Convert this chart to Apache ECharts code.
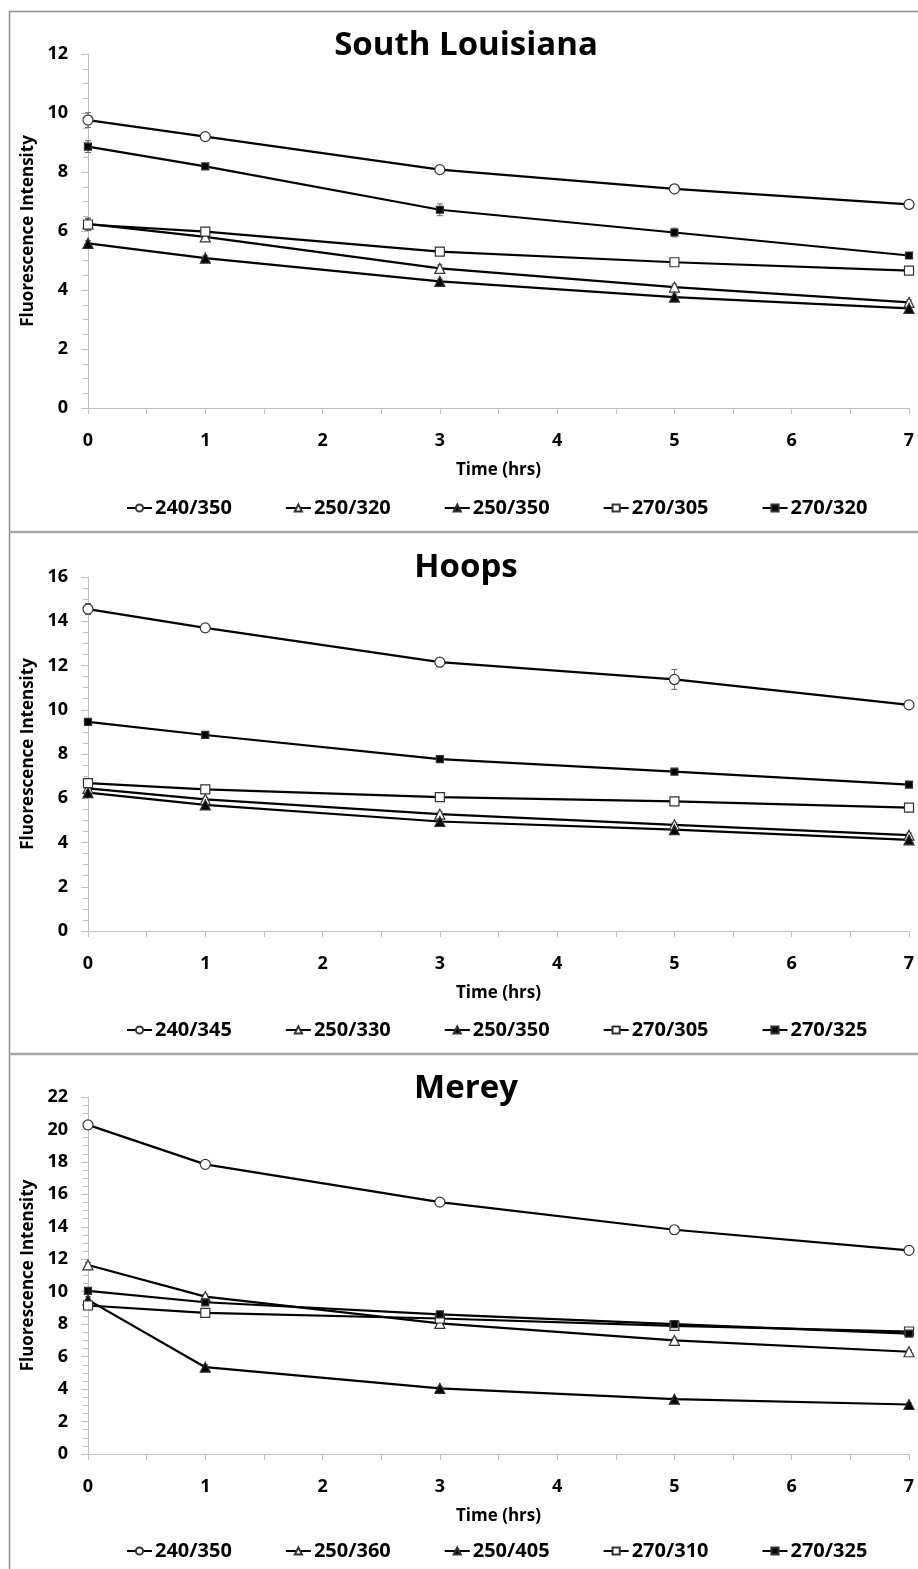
<!DOCTYPE html>
<html>
<head>
<meta charset="utf-8">
<script src="https://cdn.jsdelivr.net/npm/echarts@6/dist/echarts.min.js"></script>
<style>
html,body{margin:0;padding:0;background:#fff;}
#chart{width:918px;height:1569px;}
</style>
</head>
<body>
<div id="chart"></div>
<script>
// ---------- DATA ----------
const times = [0, 1, 3, 5, 7];

// South Louisiana
const slNames = ['240/350', '250/320', '250/350', '270/305', '270/320'];
const sl_240_350 = [9.76, 9.20, 8.08, 7.43, 6.90];
const sl_250_320 = [6.24, 5.80, 4.73, 4.10, 3.58];
const sl_250_350 = [5.58, 5.08, 4.29, 3.76, 3.38];
const sl_270_305 = [6.22, 5.98, 5.30, 4.94, 4.66];
const sl_270_320 = [8.86, 8.19, 6.72, 5.95, 5.17];
const sl_240_350_err = [0.25, 0.08, 0.10, 0.08, 0.08];
const sl_250_320_err = [0.20, 0.15, 0.12, 0.10, 0.08];
const sl_250_350_err = [0.10, 0.08, 0.08, 0.10, 0.08];
const sl_270_305_err = [0.20, 0.10, 0.10, 0.10, 0.10];
const sl_270_320_err = [0.20, 0.08, 0.20, 0.15, 0.05];

// Hoops
const hNames = ['240/345', '250/330', '250/350', '270/305', '270/325'];
const h_240_345 = [14.55, 13.70, 12.15, 11.37, 10.22];
const h_250_330 = [6.45, 5.95, 5.28, 4.80, 4.33];
const h_250_350 = [6.25, 5.70, 4.95, 4.58, 4.12];
const h_270_305 = [6.68, 6.40, 6.05, 5.86, 5.58];
const h_270_325 = [9.45, 8.86, 7.77, 7.20, 6.62];
const h_240_345_err = [0.25, 0.10, 0.10, 0.45, 0.10];
const h_250_330_err = [0.10, 0.10, 0.10, 0.10, 0.10];
const h_250_350_err = [0.10, 0.10, 0.10, 0.10, 0.10];
const h_270_305_err = [0.10, 0.10, 0.10, 0.10, 0.10];
const h_270_325_err = [0.10, 0.10, 0.15, 0.10, 0.05];

// Merey
const mNames = ['240/350', '250/360', '250/405', '270/310', '270/325'];
const m_240_350 = [20.28, 17.85, 15.52, 13.82, 12.55];
const m_250_360 = [11.65, 9.70, 8.05, 7.00, 6.30];
const m_250_405 = [9.50, 5.35, 4.05, 3.38, 3.05];
const m_270_310 = [9.15, 8.70, 8.35, 7.90, 7.55];
const m_270_325 = [10.05, 9.35, 8.60, 8.00, 7.42];
const m_240_350_err = [0.20, 0.15, 0.15, 0.15, 0.15];
const m_250_360_err = [0.15, 0.15, 0.15, 0.15, 0.10];
const m_250_405_err = [0.20, 0.15, 0.10, 0.10, 0.10];
const m_270_310_err = [0.15, 0.10, 0.10, 0.10, 0.10];
const m_270_325_err = [0.15, 0.10, 0.10, 0.10, 0.10];

const panelTitles = ['South Louisiana', 'Hoops', 'Merey'];
const yMax = [12, 16, 22];
const xLabel = 'Time (hrs)';
const yLabel = 'Fluorescence Intensity';

// ---------- STYLE / LAYOUT ----------
const FONT = "'Open Sans', 'Noto Sans', sans-serif";
const markerStyles = [
  {symbol: 'circle', size: 10, fill: '#fff'},
  {symbol: 'triangle', size: 10, fill: '#fff'},
  {symbol: 'triangle', size: 10, fill: '#000'},
  {symbol: 'rect', size: 9, fill: '#fff'},
  {symbol: 'rect', size: 7, fill: '#000'}
];
const panels = [
  {names: slNames, values: [sl_240_350, sl_250_320, sl_250_350, sl_270_305, sl_270_320],
   errs: [sl_240_350_err, sl_250_320_err, sl_250_350_err, sl_270_305_err, sl_270_320_err]},
  {names: hNames, values: [h_240_345, h_250_330, h_250_350, h_270_305, h_270_325],
   errs: [h_240_345_err, h_250_330_err, h_250_350_err, h_270_305_err, h_270_325_err]},
  {names: mNames, values: [m_240_350, m_250_360, m_250_405, m_270_310, m_270_325],
   errs: [m_240_350_err, m_250_360_err, m_250_405_err, m_270_310_err, m_270_325_err]}
];
const gridTops = [54, 577, 1097];
const gridHeights = [354, 354, 357];
const titleY = [46, 568, 1089];
const legendY = [498, 1020, 1541];

const grids = [], xAxes = [], yAxes = [], series = [], legends = [], graphics = [];

panels.forEach((p, i) => {
  grids.push({left: 88, width: 821, top: gridTops[i], height: gridHeights[i]});
  xAxes.push({
    type: 'value', gridIndex: i, min: 0, max: 7, interval: 1,
    axisLine: {show: true, lineStyle: {color: '#c0c0c0', width: 1}},
    axisTick: {show: true, length: 6, lineStyle: {color: '#c0c0c0'}},
    minorTick: {show: true, splitNumber: 2, length: 6, lineStyle: {color: '#c0c0c0'}},
    splitLine: {show: false},
    axisLabel: {color: '#000', fontWeight: 'bold', fontSize: 18, fontFamily: FONT, margin: 24},
    name: xLabel, nameLocation: 'middle', nameGap: 54,
    nameTextStyle: {color: '#000', fontWeight: 'bold', fontSize: 17, fontFamily: FONT}
  });
  yAxes.push({
    type: 'value', gridIndex: i, min: 0, max: yMax[i], interval: 2,
    axisLine: {show: true, lineStyle: {color: '#c0c0c0', width: 1}},
    axisTick: {show: true, length: 7, lineStyle: {color: '#c0c0c0'}},
    minorTick: {show: true, splitNumber: 4, length: 5, lineStyle: {color: '#c0c0c0'}},
    splitLine: {show: false},
    axisLabel: {color: '#000', fontWeight: 'bold', fontSize: 18, fontFamily: FONT, margin: 20},
    name: yLabel, nameLocation: 'middle', nameGap: 51,
    nameTextStyle: {color: '#000', fontWeight: 'bold', fontSize: 17, fontFamily: FONT}
  });
  p.names.forEach((nm, k) => {
    const ms = markerStyles[k];
    series.push({
      type: 'custom', name: 'err_' + i + '_' + k, xAxisIndex: i, yAxisIndex: i, z: 3,
      data: times.map((t, j) => [t, p.values[k][j], p.errs[k][j]]),
      encode: {x: 0, y: 1},
      renderItem: function (params, api) {
        const x = api.value(0), y = api.value(1), e = api.value(2);
        const hi = api.coord([x, y + e]), lo = api.coord([x, y - e]);
        const w = 3;
        const st = {stroke: '#666', lineWidth: 1};
        return {type: 'group', children: [
          {type: 'line', shape: {x1: hi[0], y1: hi[1], x2: lo[0], y2: lo[1]}, style: st},
          {type: 'line', shape: {x1: hi[0] - w, y1: hi[1], x2: hi[0] + w, y2: hi[1]}, style: st},
          {type: 'line', shape: {x1: lo[0] - w, y1: lo[1], x2: lo[0] + w, y2: lo[1]}, style: st}
        ]};
      }
    });
    series.push({
      type: 'line', name: nm, xAxisIndex: i, yAxisIndex: i, z: 4,
      data: times.map((t, j) => [t, p.values[k][j]]),
      symbol: ms.symbol, symbolSize: ms.size, showSymbol: true,
      lineStyle: {color: '#000', width: 2.2},
      itemStyle: {color: ms.fill, borderColor: '#333', borderWidth: 1.2},
      emphasis: {disabled: true},
      animation: false
    });
  });
  legends.push({
    data: p.names, top: legendY[i], left: 126, orient: 'horizontal',
    padding: 0, itemWidth: 25, itemHeight: 9, itemGap: 53,
    textStyle: {color: '#000', fontWeight: 'bold', fontSize: 20, fontFamily: FONT, padding: [0, 0, 0, -2]}
  });
  graphics.push({
    type: 'text', x: 466, y: titleY[i],
    style: {text: panelTitles[i], textAlign: 'center', textVerticalAlign: 'middle',
            font: 'bold 33px ' + FONT, fill: '#000'}
  });
});

// frame lines
graphics.push({type: 'line', shape: {x1: 9, y1: 11.5, x2: 918, y2: 11.5}, style: {stroke: '#8c8c8c', lineWidth: 1.5}});
graphics.push({type: 'line', shape: {x1: 9.5, y1: 11, x2: 9.5, y2: 1569}, style: {stroke: '#8c8c8c', lineWidth: 1.5}});
graphics.push({type: 'line', shape: {x1: 9, y1: 532, x2: 918, y2: 532}, style: {stroke: '#a6a6a6', lineWidth: 2.5}});
graphics.push({type: 'line', shape: {x1: 9, y1: 1054, x2: 918, y2: 1054}, style: {stroke: '#a6a6a6', lineWidth: 2.5}});

const chart = echarts.init(document.getElementById('chart'), null, {renderer: 'canvas'});
chart.setOption({
  backgroundColor: '#fff',
  animation: false,
  grid: grids, xAxis: xAxes, yAxis: yAxes,
  legend: legends,
  series: series,
  graphic: graphics
});
</script>
</body>
</html>
